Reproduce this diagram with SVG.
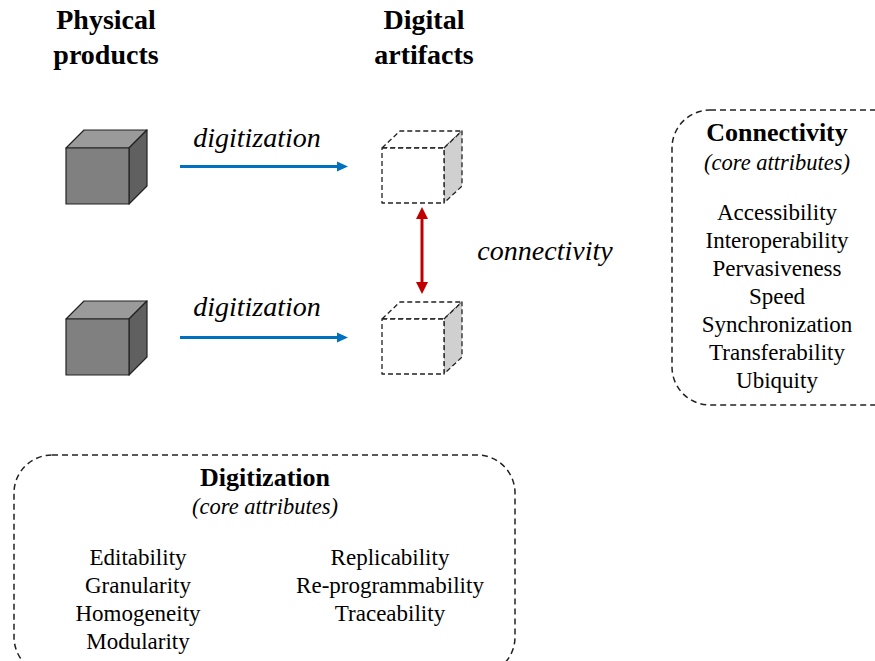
<svg xmlns="http://www.w3.org/2000/svg" width="875" height="661" viewBox="0 0 875 661">
<defs>
<style>
text{font-family:"Liberation Serif","Times New Roman",serif;fill:#000;text-anchor:middle}
.h1{font-size:28px;font-weight:bold}
.h2{font-size:26px;font-weight:bold}
.it{font-size:28px;font-style:italic}
.sub{font-size:22.5px;font-style:italic}
.li{font-size:23px}
.solid{stroke:#222;stroke-width:1.2;stroke-linejoin:round}
.dash{fill:#fff;stroke:#222;stroke-width:1.3;stroke-dasharray:5 3;stroke-linejoin:round}
.box{fill:none;stroke:#222;stroke-width:1.5;stroke-dasharray:6 4}
.blue{stroke:#0070c0;stroke-width:3;fill:none}
.red{stroke:#c00000;stroke-width:3;fill:none}
</style>
<marker id="ab" markerUnits="userSpaceOnUse" markerWidth="12" markerHeight="12" viewBox="0 0 12 12" refX="0" refY="6" orient="auto"><path d="M0,1 L11,6 L0,11 Z" fill="#0070c0"/></marker>
<marker id="ar" markerUnits="userSpaceOnUse" markerWidth="12" markerHeight="14" viewBox="0 0 12 14" refX="0" refY="7" orient="auto-start-reverse"><path d="M0,1 L12,7 L0,13 Z" fill="#c00000"/></marker>
</defs>

<g id="title-physical">
<text class="h1" x="106" y="29">Physical</text>
<text class="h1" x="106" y="64">products</text>
</g>
<g id="title-digital">
<text class="h1" x="424" y="29">Digital</text>
<text class="h1" x="424" y="64">artifacts</text>
</g>

<g id="physical-cube-1">
<polygon class="solid" points="66,148 84,130 147,130 129,148" fill="#9a9a9a"/>
<polygon class="solid" points="129,148 147,130 147,186 129,204" fill="#606060"/>
<rect class="solid" x="66" y="148" width="63" height="56" fill="#808080"/>
</g>
<g id="physical-cube-2">
<polygon class="solid" points="66,319 84,301 147,301 129,319" fill="#9a9a9a"/>
<polygon class="solid" points="129,319 147,301 147,357 129,375" fill="#606060"/>
<rect class="solid" x="66" y="319" width="63" height="56" fill="#808080"/>
</g>

<g id="digital-cube-1">
<polygon class="dash" points="382,148 400,131 462,131 444,148"/>
<polygon class="dash" points="444,148 462,131 462,186 444,203" style="fill:#d0d0d0"/>
<rect class="dash" x="382" y="148" width="62" height="55"/>
</g>
<g id="digital-cube-2">
<polygon class="dash" points="382,319 400,302 462,302 444,319"/>
<polygon class="dash" points="444,319 462,302 462,357 444,374" style="fill:#d0d0d0"/>
<rect class="dash" x="382" y="319" width="62" height="55"/>
</g>

<g id="connectors">
<line class="blue" x1="180" y1="166.5" x2="337" y2="166.5" marker-end="url(#ab)"/>
<line class="blue" x1="180" y1="337.5" x2="337" y2="337.5" marker-end="url(#ab)"/>
<line class="red" x1="422" y1="219" x2="422" y2="282" marker-start="url(#ar)" marker-end="url(#ar)"/>
</g>

<g id="labels">
<text class="it" x="257" y="147">digitization</text>
<text class="it" x="257" y="316">digitization</text>
<text class="it" x="545" y="260">connectivity</text>
</g>

<g id="connectivity-box">
<rect class="box" x="672" y="110" width="240" height="295" rx="38" ry="38"/>
<text class="h2" x="777" y="141">Connectivity</text>
<text class="sub" x="777" y="170">(core attributes)</text>
<text class="li" x="777" y="220">Accessibility</text>
<text class="li" x="777" y="248">Interoperability</text>
<text class="li" x="777" y="276">Pervasiveness</text>
<text class="li" x="777" y="304">Speed</text>
<text class="li" x="777" y="332">Synchronization</text>
<text class="li" x="777" y="360">Transferability</text>
<text class="li" x="777" y="388">Ubiquity</text>
</g>

<g id="digitization-box">
<rect class="box" x="14" y="455" width="501" height="220" rx="38" ry="38"/>
<text class="h2" x="265" y="486">Digitization</text>
<text class="sub" x="265" y="514">(core attributes)</text>
<text class="li" x="138" y="565">Editability</text>
<text class="li" x="138" y="593">Granularity</text>
<text class="li" x="138" y="621">Homogeneity</text>
<text class="li" x="138" y="649">Modularity</text>
<text class="li" x="390" y="565">Replicability</text>
<text class="li" x="390" y="593">Re-programmability</text>
<text class="li" x="390" y="621">Traceability</text>
</g>
</svg>
